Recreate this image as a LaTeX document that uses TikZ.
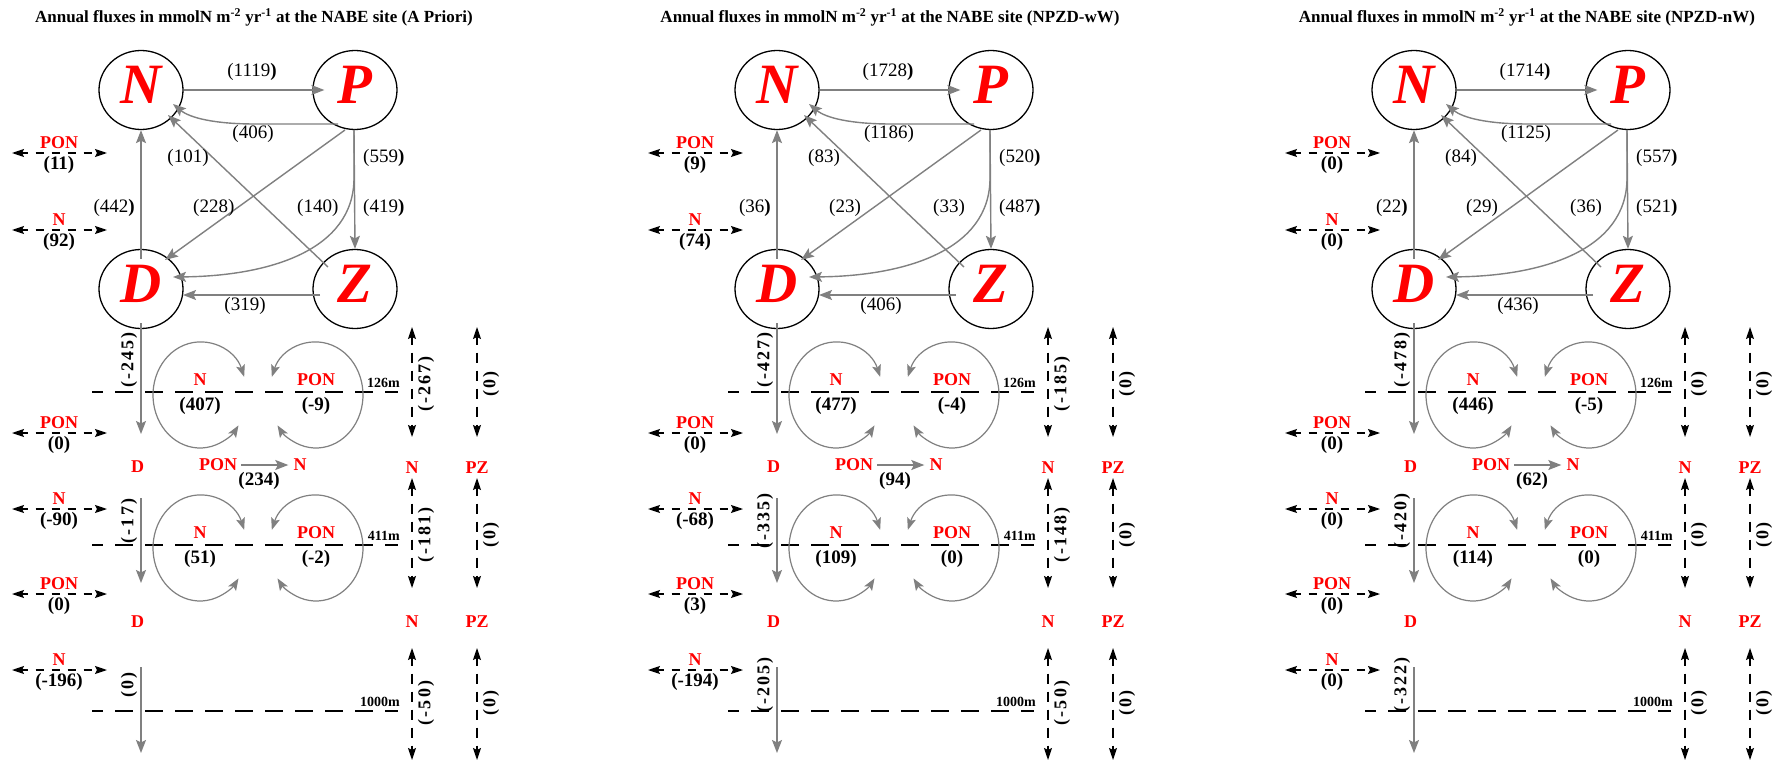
\documentclass[tikz,border=0pt]{standalone}
\usepackage{fontspec}
\setmainfont{Liberation Serif}
\newfontfamily\spacedfont[LetterSpace=12]{Liberation Serif}
\usetikzlibrary{arrows.meta,calc,shapes.geometric}
\tikzset{
  pool/.style={ellipse, draw=black, line width=1.3pt, minimum width=84pt, minimum height=79pt, inner sep=0pt, text=red, text depth=10pt, font=\fontsize{57}{60}\selectfont\bfseries\itshape},
  flow/.style={draw=gray, line width=1.4pt, -{Stealth[length=13pt,width=10pt,inset=2.5pt]}},
  cyc/.style={draw=gray, line width=1.2pt, {Stealth[length=12pt,width=9pt,inset=2.5pt]}-{Stealth[length=12pt,width=9pt,inset=2.5pt]}},
  xch/.style={draw=black, line width=1.3pt, dash pattern=on 8pt off 8pt, dash phase=2pt, {Stealth[length=12pt,width=8pt,inset=2pt]}-{Stealth[length=12pt,width=8pt,inset=2pt]}},
  vxch/.style={xch, dash pattern=on 10pt off 8pt},
  depthline/.style={draw=black, line width=1.4pt, dash pattern=on 18pt off 12pt, dash phase=7pt},
  title/.style={font=\fontsize{17}{20}\selectfont\bfseries, inner sep=0pt, anchor=base},
  flux/.style={font=\fontsize{19}{22}\selectfont, inner sep=0pt},
  tag/.style={text=red, font=\fontsize{18}{20}\selectfont\bfseries, inner sep=0pt},
  val/.style={font=\fontsize{19}{22}\selectfont\bfseries, inner sep=0pt},
  vval/.style={rotate=90, font=\spacedfont\fontsize{18}{20}\selectfont\bfseries, inner sep=0pt},
  depth/.style={font=\fontsize{14}{16}\selectfont\bfseries, inner sep=0pt, anchor=base east}
}

\begin{document}
\begin{tikzpicture}[x=1pt,y=1pt]
\path[use as bounding box, fill=white] (0,0) rectangle (1780,-762);
\foreach \dx/\ttl/\fNP/\fPN/\fZN/\fPZa/\fDN/\fPD/\fPDc/\fPZb/\fZD/\xPa/\xNa/\xPb/\xNb/\xPc/\xNc/\sDa/\sDb/\sDc/\lNa/\lPa/\lNb/\lPb/\rPN/\vNa/\vNb/\vNc/\vZa/\vZb/\vZc in {%
  0/{A Priori}/1119/406/101/559/442/228/140/419/319/11/92/0/-90/0/-196/-245/-17/0/407/-9/51/-2/234/-267/-181/-50/0/0/0,%
  636/{NPZD-wW}/1728/1186/83/520/36/23/33/487/406/9/74/0/-68/3/-194/-427/-335/-205/477/-4/109/0/94/-185/-148/-50/0/0/0,%
  1273/{NPZD-nW}/1714/1125/84/557/22/29/36/521/436/0/0/0/0/0/0/-478/-420/-322/446/-5/114/0/62/0/0/0/0/0/0}{
\begin{scope}[xshift=\dx pt]
  \node[title] (ttl) at (254,-22.5) {Annual fluxes in mmolN m\textsuperscript{-2} yr\textsuperscript{-1} at the NABE site (\ttl)};

  \node[pool] (N) at (141,-90) {N};
  \node[pool] (P) at (355,-90) {P};
  \node[pool] (D) at (141,-289) {D};
  \node[pool] (Z) at (355,-289) {Z};

  \draw[flow] (N.east) -- ([xshift=12pt]P.west);
  \draw[flow] ($(P)+(-17,-34)$) -- (255,-124) .. controls (215,-124) and (190,-118) .. ($(N)+(32,-14)$);
  \draw[flow] ($(Z)+(-27,22)$) -- ($(N)+(27,-25)$);
  \draw[flow] ($(P)+(-10,-40)$) -- ($(D)+(24,29)$);
  \draw[flow] ($(P)+(-1,-40)$) -- (354,-178) .. controls (354,-250) and (270,-276) .. ($(D)+(32,12)$);
  \draw[flow] ($(P)+(-1,-40)$) -- (Z.north);
  \draw[flow] ($(D.north)+(0,-10)$) -- (N.south);
  \draw[flow] ($(Z)+(-35,-6)$) -- ($(D)+(42,-6)$);

  \node[flux] (fnp) at (252,-72) {(\fNP\textbf{)}};
  \node[flux] (fpn) at (253,-134) {(\fPN)};
  \node[flux] (fzn) at (188,-158) {(\fZN)};
  \node[flux, anchor=west] (fpza) at (363,-158) {(\fPZa\textbf{)}};
  \node[flux, anchor=east] (fdn) at (135,-208) {(\fDN\textbf{)}};
  \node[flux, anchor=west] (fpd) at (193,-208) {(\fPD)};
  \node[flux, anchor=west] (fpdc) at (297,-208) {(\fPDc)};
  \node[flux, anchor=west] (fpzb) at (363,-208) {(\fPZb\textbf{)}};
  \node[flux] (fzd) at (245,-306) {(\fZD)};

  % exchanges on the left
  \foreach \y/\nm/\fv in {153/PON/\xPa, 230/N/\xNa, 433/PON/\xPb, 509/N/\xNb, 594/PON/\xPc, 670/N/\xNc}{
    \coordinate (xl\y) at (12,-\y);
    \coordinate (xr\y) at (107,-\y);
    \draw[xch] (xl\y) -- (xr\y);
    \node[tag] (xn\y) at (59,-\y+10) {\nm};
    \node[val] (xv\y) at (59,-\y-12) {(\fv)};
  }

  % sinking of D
  \node[tag] (dt1) at (137.5,-467) {D};
  \node[tag] (dt2) at (137.5,-622) {D};
  \coordinate (ds1) at (141,-434);
  \coordinate (ds2a) at (141,-498);
  \coordinate (ds2) at (141,-583);
  \coordinate (ds3a) at (141,-667);
  \coordinate (ds3) at (141,-753);
  \draw[flow] ($(D.south)+(0,6)$) -- (ds1);
  \draw[flow] (ds2a) -- (ds2);
  \draw[flow] (ds3a) -- (ds3);
  \node[vval] (dv1) at (129,-360) {(\sDa)};
  \node[vval] (dv2) at (129,-521) {(\sDb)};
  \node[vval] (dv3) at (129,-685) {(\sDc)};

  % depth levels
  \foreach \y/\dep in {392/126m, 545/411m, 711/1000m}{
    \coordinate (la\y) at (92,-\y);
    \coordinate (lb\y) at (398,-\y);
    \draw[depthline] (la\y) -- (lb\y);
    \node[depth] (lm\y) at (400,-\y+5) {\dep};
  }

  % recycling loops
  \foreach \y/\fa/\fb in {392/\lNa/\lPa, 545/\lNb/\lPb}{
    \coordinate (cn\y) at (200,-\y-3);
    \coordinate (cp\y) at (316,-\y-3);
    \draw[cyc] ($(cn\y)+(20:47 and 53)$) arc[start angle=20, end angle=325, x radius=47, y radius=53];
    \draw[cyc] ($(cp\y)+(160:47 and 53)$) arc[start angle=160, end angle=-145, x radius=47, y radius=53];
    \node[tag] (cnt\y) at (200,-\y+12) {N};
    \node[val] (cnv\y) at (200,-\y-14) {(\fa)};
    \node[tag] (cpt\y) at (316,-\y+12) {PON};
    \node[val] (cpv\y) at (316,-\y-14) {(\fb)};
  }

  \node[tag] (rp) at (218,-465) {PON};
  \node[tag] (rn) at (300,-465) {N};
  \draw[flow] ([xshift=4pt]rp.east) -- ([xshift=-5pt]rn.west);
  \node[val] (rv) at (259,-481) {(\rPN)};

  % exchanges on the right
  \node[tag] (na) at (412,-468) {N};
  \node[tag] (nb) at (412,-622) {N};
  \node[tag] (za) at (477,-468) {PZ};
  \node[tag] (zb) at (477,-622) {PZ};
  \foreach \x/\cl/\fa/\fb/\fc in {412/n/\vNa/\vNb/\vNc, 477/z/\vZa/\vZb/\vZc}{
    \coordinate (\cl1t) at (\x,-327);
    \coordinate (\cl1b) at (\x,-437);
    \coordinate (\cl2t) at (\x,-478);
    \coordinate (\cl2b) at (\x,-588);
    \coordinate (\cl3t) at (\x,-648);
    \coordinate (\cl3b) at (\x,-760);
    \draw[vxch] (\cl1t) -- (\cl1b);
    \draw[vxch] (\cl2t) -- (\cl2b);
    \draw[vxch] (\cl3t) -- (\cl3b);
    \node[vval] (\cl1v) at (\x+14,-384) {(\fa)};
    \node[vval] (\cl2v) at (\x+14,-535) {(\fb)};
    \node[vval] (\cl3v) at (\x+14,-703) {(\fc)};
  }
\end{scope}
}
\end{tikzpicture}
\end{document}
